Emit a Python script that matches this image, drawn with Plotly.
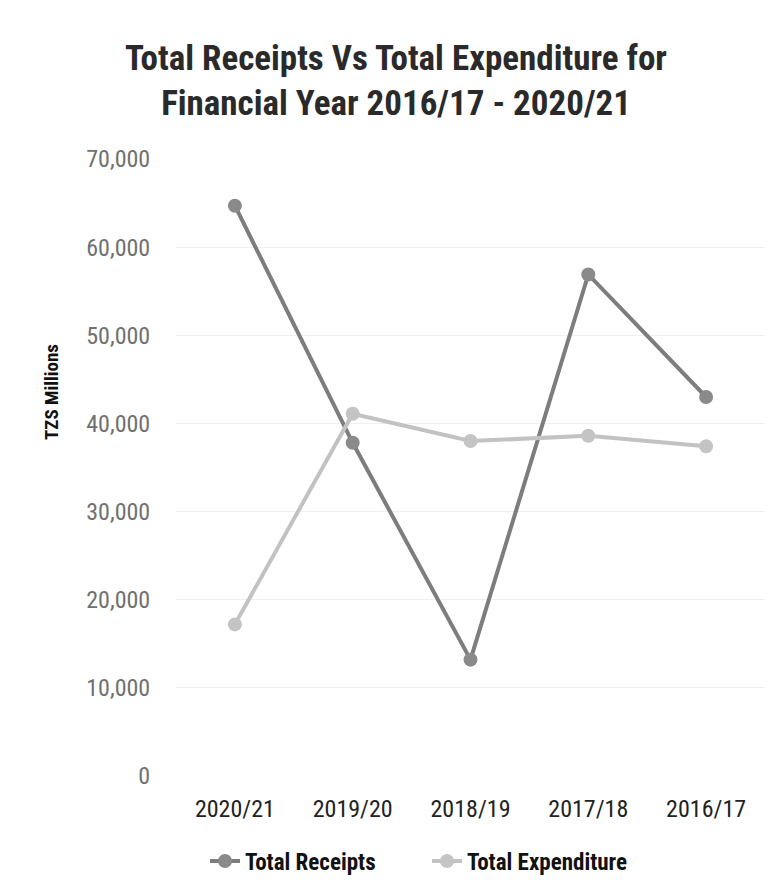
import plotly.graph_objects as go

categories = ["2020/21", "2019/20", "2018/19", "2017/18", "2016/17"]
total_receipts = [64700, 37800, 13200, 56900, 43000]
total_expenditure = [17200, 41100, 38000, 38600, 37400]
y_ticks = [0, 10000, 20000, 30000, 40000, 50000, 60000, 70000]

NARROW = "Liberation Sans Narrow, Arial Narrow, Roboto Condensed, sans-serif"

fig = go.Figure()
fig.add_trace(go.Scatter(
    x=categories, y=total_receipts, name="<b>Total Receipts</b>",
    mode="lines+markers",
    line=dict(color="#7d7d7d", width=4),
    marker=dict(color="#8a8a8a", size=14),
))
fig.add_trace(go.Scatter(
    x=categories, y=total_expenditure, name="<b>Total Expenditure</b>",
    mode="lines+markers",
    line=dict(color="#c2c2c2", width=4),
    marker=dict(color="#c4c4c4", size=14),
))

fig.update_layout(
    width=776, height=880,
    paper_bgcolor="white", plot_bgcolor="white",
    margin=dict(l=168, r=19, t=151, b=112, autoexpand=False),
    title=dict(
        text="<b>Total Receipts Vs Total Expenditure for<br>Financial Year 2016/17 - 2020/21</b>",
        x=0.5, xanchor="center", y=0.930, yanchor="top",
        font=dict(family=NARROW, size=35, color="#2a2a2a"),
    ),
    xaxis=dict(
        type="category", range=[-0.5, 4.5],
        showgrid=False, showline=False, zeroline=False,
        tickfont=dict(family=NARROW, size=24, color="#222"),
        ticks="outside", ticklen=11, tickcolor="rgba(0,0,0,0)",
    ),
    yaxis=dict(
        range=[0, 70000], tickvals=y_ticks, tickformat=",",
        showgrid=True, gridcolor="#efefef", gridwidth=1,
        zeroline=False, showline=False,
        tickfont=dict(family=NARROW, size=24, color="#707070"),
        ticks="outside", ticklen=20, tickcolor="rgba(0,0,0,0)",
    ),
    legend=dict(
        orientation="h", x=(197 - 168) / 589, xanchor="left",
        y=-(853 - 768) / 617, yanchor="middle",
        font=dict(family=NARROW, size=23, color="#111"),
        entrywidth=177, entrywidthmode="pixels",
        bgcolor="rgba(0,0,0,0)",
    ),
    annotations=[dict(
        text="<b>TZS Millions</b>", textangle=-90,
        xref="paper", yref="paper",
        x=(43 - 168) / 589, y=(768 - 384) / 617,
        xanchor="center", yanchor="middle", showarrow=False,
        font=dict(family=NARROW, size=19, color="#111"),
    )],
)

fig.write_html("out.html")
